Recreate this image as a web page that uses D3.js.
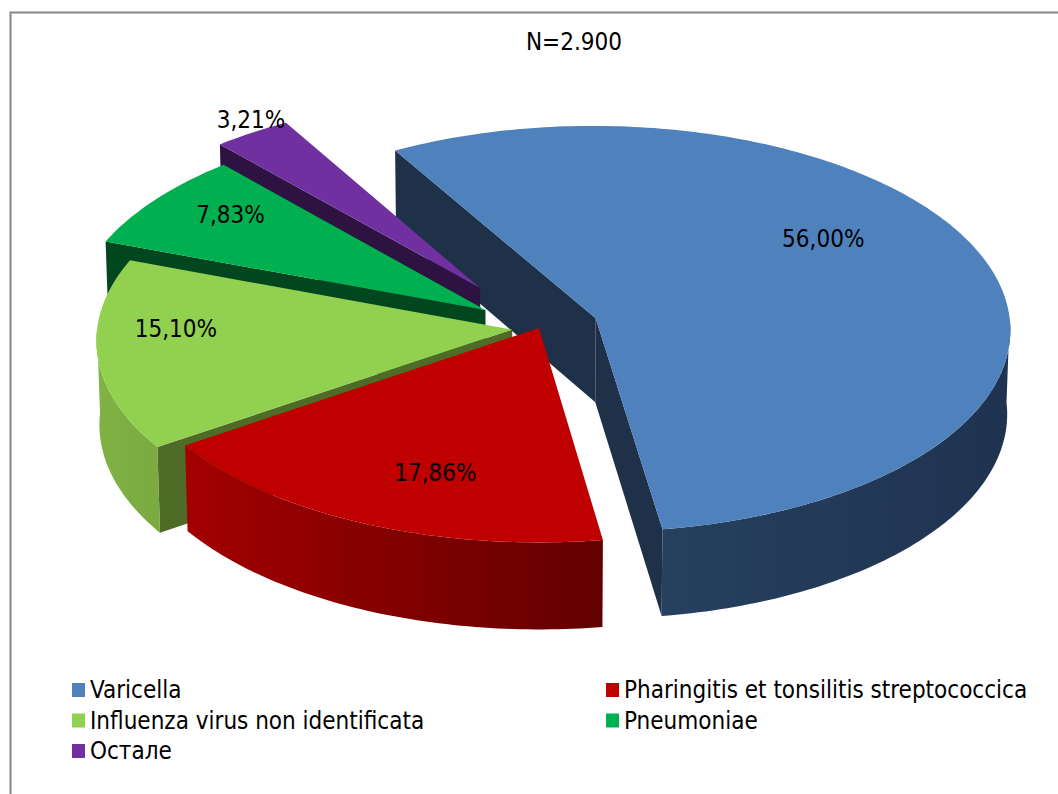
<!DOCTYPE html>
<html>
<head>
<meta charset="utf-8">
<script src="https://cdn.jsdelivr.net/npm/d3@7"></script>
<style>
  body { margin: 0; background: #fff; }
  text { font-family: "Liberation Sans Narrow", "DejaVu Sans Condensed", sans-serif; fill: #000; }
</style>
</head>
<body>
<svg id="chart" width="1058" height="794"></svg>
<script>

// data
var categories = ["Varicella", "Pharingitis et tonsilitis streptococcica", "Influenza virus non identificata", "Pneumoniae", "Остале"];
var percentages = [56.00, 17.86, 15.10, 7.83, 3.21];
var title = "N=2.900";

// look
var topColors = ["#4F81BD", "#C00000", "#92D050", "#00B050", "#7030A0"];
var faceColors = ["#1F3049", "#5E0000", "#4F6B28", "#00461F", "#2E1342"];
var wallColors = [["#26405F", "#1F3350"], ["#A30000", "#620000"], ["#80B245", "#7AAA40"], ["#00803A", "#006A30"], ["#55247A", "#451D63"]];
var explode = [0.145, 0, 0.065, 0.157, 0.245];
var labelShift = [-16, -4.5, 7, 3, 2];
var labelRadius = [0.69, 0.73, 0.81, 0.80, 1.06];

var width = 1058, height = 794;
var cx = 539, cy = 328;
var radius = 415;
var depth = 97;
var sinA = 0.49, cosA = Math.sqrt(1 - sinA * sinA);
var focal = 7000;
var rad = Math.PI / 180;

var svg = d3.select("#chart");

svg.append("rect").attr("x", 10.5).attr("y", 12.5).attr("width", 1080).attr("height", 820)
    .attr("fill", "#fff").attr("stroke", "#868686").attr("stroke-width", 2);

svg.append("text").attr("x", 574).attr("y", 42).attr("text-anchor", "middle")
    .attr("dominant-baseline", "central").style("font-size", "24px").text(title);

// point in pie plane (X right, Y toward viewer, Z up) -> screen
function project(X, Y, Z) {
    var sy = Y * sinA - Z * cosA;
    var d = -Y * cosA - Z * sinA;
    var s = focal / (focal + d);
    return [cx + X * s, cy + sy * s];
}

var pie = d3.pie().sort(null).value(function(d) { return d; })
    .startAngle(-30 * rad).endAngle(330 * rad);
var slices = pie(percentages);

slices.forEach(function(d, i) {
    var mid = (d.startAngle + d.endAngle) / 2;
    var e = explode[i] * radius;
    d.ox = e * Math.sin(mid);
    d.oy = -e * Math.cos(mid);
});

function rim(d, a, r, z) {
    return project(d.ox + r * Math.sin(a), d.oy - r * Math.cos(a), z);
}

function arcPoints(d, a0, a1, z) {
    var n = Math.max(2, Math.ceil(Math.abs(a1 - a0) / rad));
    return d3.range(n + 1).map(function(k) {
        return rim(d, a0 + (a1 - a0) * k / n, radius, z);
    });
}

var line = d3.line().curve(d3.curveLinearClosed);
var defs = svg.append("defs");
var walls = svg.append("g");
var tops = svg.append("g");

// biggest exploded slice sits behind the others' cut faces
var order = [0, 4, 3, 2, 1];

order.forEach(function(i) {
    var d = slices[i];
    var apexTop = project(d.ox, d.oy, 0);
    var apexBot = project(d.ox, d.oy, -depth);

    // radial cut faces
    [[d.startAngle, d.startAngle - Math.PI / 2], [d.endAngle, d.endAngle + Math.PI / 2]].forEach(function(f) {
        if (-Math.cos(f[1]) > 0) {
            walls.append("path")
                .attr("d", line([apexTop, rim(d, f[0], radius, 0), rim(d, f[0], radius, -depth), apexBot]))
                .attr("fill", faceColors[i]);
        }
    });

    // outer wall, the front half only
    var a0 = Math.max(d.startAngle, 90 * rad), a1 = Math.min(d.endAngle, 270 * rad);
    if (a1 > a0) {
        var pts = arcPoints(d, a0, a1, 0).concat(arcPoints(d, a1, a0, -depth));
        var xs = d3.extent(pts, function(p) { return p[0]; });
        var grad = defs.append("linearGradient").attr("id", "wall" + i)
            .attr("gradientUnits", "userSpaceOnUse")
            .attr("x1", xs[0]).attr("x2", xs[1]).attr("y1", 0).attr("y2", 0);
        grad.append("stop").attr("offset", 0).attr("stop-color", wallColors[i][0]);
        grad.append("stop").attr("offset", 1).attr("stop-color", wallColors[i][1]);
        walls.append("path").attr("d", line(pts)).attr("fill", "url(#wall" + i + ")");
    }

    tops.append("path")
        .attr("d", line([apexTop].concat(arcPoints(d, d.startAngle, d.endAngle, 0))))
        .attr("fill", topColors[i]);
});

// value labels
svg.append("g").selectAll("text").data(slices).enter().append("text")
    .attr("transform", function(d, i) {
        var a = (d.startAngle + d.endAngle) / 2 + labelShift[i] * rad;
        return "translate(" + rim(d, a, labelRadius[i] * radius, 0) + ")";
    })
    .attr("text-anchor", "middle").attr("dominant-baseline", "central")
    .style("font-size", "24px")
    .text(function(d) { return d.data.toFixed(2).replace(".", ",") + "%"; });

// legend
var legend = svg.append("g").selectAll("g").data(categories).enter().append("g")
    .attr("transform", function(d, i) {
        return "translate(" + (i % 2 ? 606 : 72) + "," + (690 + Math.floor(i / 2) * 30.5) + ")";
    });

legend.append("rect").attr("x", 0).attr("y", -7).attr("width", 13).attr("height", 14)
    .attr("fill", function(d, i) { return topColors[i]; });

legend.append("text").attr("x", 18).attr("y", 0).attr("dominant-baseline", "central")
    .style("font-size", "24px").text(function(d) { return d; });

</script>
</body>
</html>
